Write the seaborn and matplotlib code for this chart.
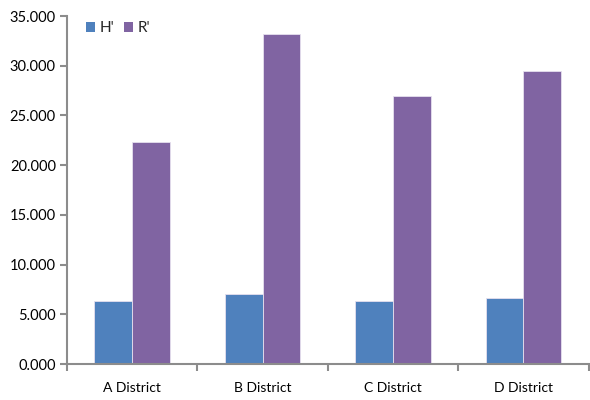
import matplotlib
matplotlib.use("Agg")
import matplotlib.pyplot as plt
import seaborn as sns
import pandas as pd
from matplotlib.ticker import FormatStrFormatter, FixedLocator

categories = ["A District", "B District", "C District", "D District"]
series_names = ["H'", "R'"]
h_values = [6.32, 7.09, 6.32, 6.59]
r_values = [22.28, 33.22, 26.91, 29.43]
colors = ["#4F81BD", "#8064A2"]

df = pd.DataFrame({
    "District": categories * 2,
    "Series": [series_names[0]] * 4 + [series_names[1]] * 4,
    "Value": h_values + r_values,
})

sns.set_theme(style="white")
plt.rcParams['font.family'] = ['Lato', 'DejaVu Sans']

fig = plt.figure(figsize=(5.9, 4.0), dpi=100)
ax = fig.add_axes([0.1136, 0.09, 0.884, 0.87])

sns.barplot(data=df, x="District", y="Value", hue="Series", order=categories,
            hue_order=series_names, palette=colors, width=0.58, gap=0,
            edgecolor="#E6E0EE", linewidth=0.6, ax=ax, saturation=1)

ax.set_xlim(-0.5, 3.5)
ax.set_ylim(0, 35)
ax.set_yticks([0, 5, 10, 15, 20, 25, 30, 35])
ax.yaxis.set_major_formatter(FormatStrFormatter("%.3f"))
ax.set_xlabel("")
ax.set_ylabel("")

for s in ["top", "right"]:
    ax.spines[s].set_visible(False)
for s in ["left", "bottom"]:
    ax.spines[s].set_color("#8C8C8C")
    ax.spines[s].set_linewidth(1.5)

ax.tick_params(axis="y", which="major", direction="out", length=5, width=1.5,
               color="#8C8C8C", labelsize=10.5, labelcolor="#000000", pad=3, left=True)
ax.tick_params(axis="x", which="major", length=0, labelsize=10, labelcolor="#000000", pad=13)
ax.xaxis.set_minor_locator(FixedLocator([-0.5, 0.5, 1.5, 2.5, 3.5]))
ax.tick_params(axis="x", which="minor", direction="out", length=5, width=1.5,
               color="#8C8C8C", bottom=True)

leg = ax.legend(loc="upper left", bbox_to_anchor=(0.01, 1.025), ncol=2, frameon=False,
                fontsize=11, handlelength=0.6, handleheight=0.6, handletextpad=0.3,
                columnspacing=0.6)
for h in leg.legend_handles:
    h.set_edgecolor("none")

fig.savefig("out.png", dpi=100)
